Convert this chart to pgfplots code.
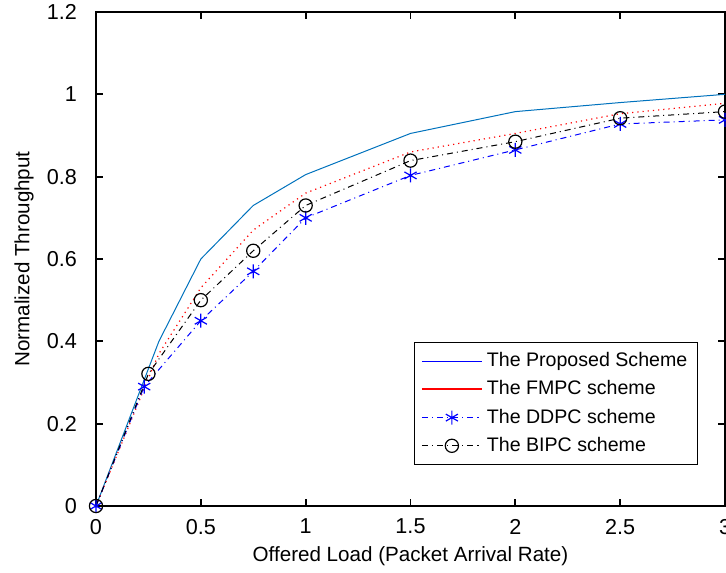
\documentclass[border=0pt]{standalone}
\usepackage{fontspec}
\setmainfont{Liberation Sans}
\usepackage{pgfplots}
\pgfplotsset{compat=1.18}
\definecolor{mblue}{rgb}{0.0,0.447,0.741}

\begin{document}
\begin{tikzpicture}
\begin{axis}[
    name=main,
    scale only axis,
    width=314.5pt,
    height=247pt,
    xmin=0, xmax=3,
    ymin=0, ymax=1.2,
    xtick={0,0.5,1,1.5,2,2.5,3},
    ytick={0,0.2,0.4,0.6,0.8,1,1.2},
    tick align=inside,
    major tick length=3.5pt,
    axis line style={line width=0.9pt},
    every tick/.style={line width=0.9pt, black},
    /pgf/number format/assume math mode=true,
    tick label style={font=\fontsize{10.8}{12}\selectfont},
    yticklabel style={xshift=-6pt},
    xticklabel style={yshift=-3pt},
    label style={font=\fontsize{10.3}{12}\selectfont},
    xlabel={Offered Load (Packet Arrival Rate)},
    ylabel={Normalized Throughput},
    xlabel style={at={(axis description cs:0.5,-0.101)}, anchor=center},
    ylabel style={at={(axis description cs:-0.1145,0.5)}, anchor=center},
    legend image code/.code={
        \draw[mark repeat=2, mark phase=2] plot coordinates {(0pt,0pt) (15pt,0pt) (30pt,0pt)};},
    legend style={
        at={(0.957,0.083)}, anchor=south east,
        font=\fontsize{9.8}{11}\selectfont,
        draw=black, line width=0.6pt,
        row sep=1.5pt,
        inner xsep=3pt, inner ysep=3pt,
    },
    legend cell align=left,
]
    % data series
    \addplot[mblue, line width=0.5pt, forget plot]
    coordinates {
        (0,0) (0.3,0.40) (0.5,0.60) (0.75,0.73) (1,0.805) (1.5,0.905) (2,0.958) (2.5,0.98) (3,1.0)
    };
    \addplot[red, line width=0.6pt, dotted, forget plot]
    coordinates {
        (0,0) (0.25,0.31) (0.3,0.37) (0.5,0.53) (0.75,0.67) (1,0.76) (1.5,0.86) (2,0.905) (2.5,0.953) (3,0.978)
    };
    \addplot[blue, line width=0.5pt, dash dot, mark=asterisk, mark size=3.5pt,
        mark options={solid, line width=0.6pt}, forget plot]
    coordinates {
        (0,0) (0.23,0.29) (0.5,0.45) (0.75,0.57) (1,0.70) (1.5,0.803) (2,0.865) (2.5,0.928) (3,0.938)
    };
    \addplot[black, line width=0.5pt, dash dot, mark=o, mark size=3.3pt,
        mark options={solid, line width=0.6pt}, forget plot]
    coordinates {
        (0,0) (0.25,0.321) (0.5,0.50) (0.75,0.62) (1,0.73) (1.5,0.839) (2,0.885) (2.5,0.942) (3,0.958)
    };

    % legend entries (legend lines differ from plotted lines, as in the original)
    \addlegendimage{draw=blue, solid, line width=0.6pt}
    \addlegendentry{The Proposed Scheme}
    \addlegendimage{draw=red, solid, line width=1pt}
    \addlegendentry{The FMPC scheme}
    \addlegendimage{draw=blue, dash dot, line width=0.5pt, mark=asterisk, mark size=3.5pt,
        mark options={draw=blue, solid, line width=0.6pt}}
    \addlegendentry{The DDPC scheme}
    \addlegendimage{draw=black, dash dot, line width=0.5pt, mark=o, mark size=3.3pt,
        mark options={draw=black, solid, line width=0.6pt}}
    \addlegendentry{The BIPC scheme}
\end{axis}
\pgfresetboundingbox
\path ([xshift=-48pt, yshift=-33pt]main.south west) rectangle ([xshift=0.5pt, yshift=6pt]main.north east);
\end{tikzpicture}
\end{document}
